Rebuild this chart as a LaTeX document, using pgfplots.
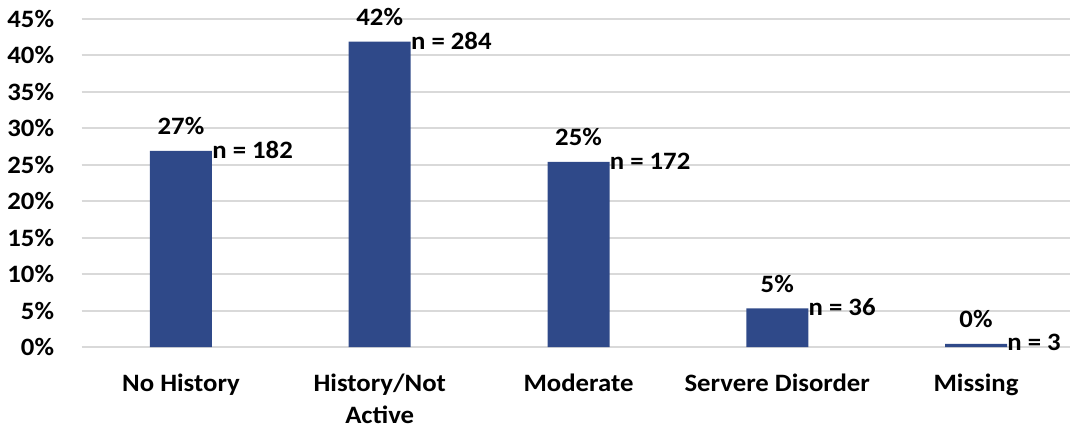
\documentclass[border=0pt]{standalone}
\usepackage{fontspec}
\setmainfont{Carlito}[FakeStretch=1.07]
\usepackage{pgfplots}
\pgfplotsset{compat=1.18}
\usepackage{pgfplotstable}

\definecolor{barblue}{RGB}{47,73,137}
\definecolor{gridgray}{RGB}{217,217,217}

% share of sample and count per category
\pgfplotstableread{
x pct n
0 26.9 182
1 41.9 284
2 25.4 172
3 5.3 36
4 0.44 3
}\datatable

\begin{document}
\begin{tikzpicture}
\begin{axis}[
  at={(40.8pt,41.5pt)}, anchor=south west,
  scale only axis, width=496.9pt, height=164pt,
  xmin=-0.5, xmax=4.5, ymin=0, ymax=45,
  xtick={0,...,4},
  xticklabels={No History,{\begin{tabular}[t]{@{}c@{}}History/Not\\Active\end{tabular}},Moderate,Servere Disorder,Missing},
  ytick={0,5,...,45},
  yticklabel={\pgfmathprintnumber{\tick}\%},
  /pgf/number format/assume math mode=true,
  major tick length=0pt,
  axis line style={draw=none},
  ymajorgrids, grid style={gridgray, line width=1pt},
  tick label style={font=\fontsize{12.5}{15.9}\selectfont\bfseries, inner sep=0pt},
  yticklabel style={anchor=east, xshift=-13.6pt},
  xticklabel style={anchor=base, yshift=-22.35pt},
  clip=false,
]
\addplot[ybar, bar width=31pt, bar shift=0pt, fill=barblue, draw=none,
  point meta=y,
  nodes near coords={\pgfmathprintnumber[fixed,precision=0]{\pgfplotspointmeta}\%},
  every node near coord/.append style={font=\fontsize{12.5}{15}\selectfont\bfseries,
    text=black, inner sep=0pt, anchor=south, yshift=7.8pt}]
  table[x=x, y=pct] {\datatable};
\addplot[draw=none, mark=none, point meta=explicit,
  nodes near coords={n = \pgfmathprintnumber{\pgfplotspointmeta}},
  every node near coord/.append style={font=\fontsize{12.5}{15}\selectfont\bfseries,
    text=black, inner sep=0pt, anchor=west, xshift=15.5pt, yshift=0.5pt}]
  table[x=x, y=pct, meta=n] {\datatable};
\end{axis}
\pgfresetboundingbox
\path (0pt,0pt) rectangle (535pt,215pt);
\end{tikzpicture}
\end{document}
